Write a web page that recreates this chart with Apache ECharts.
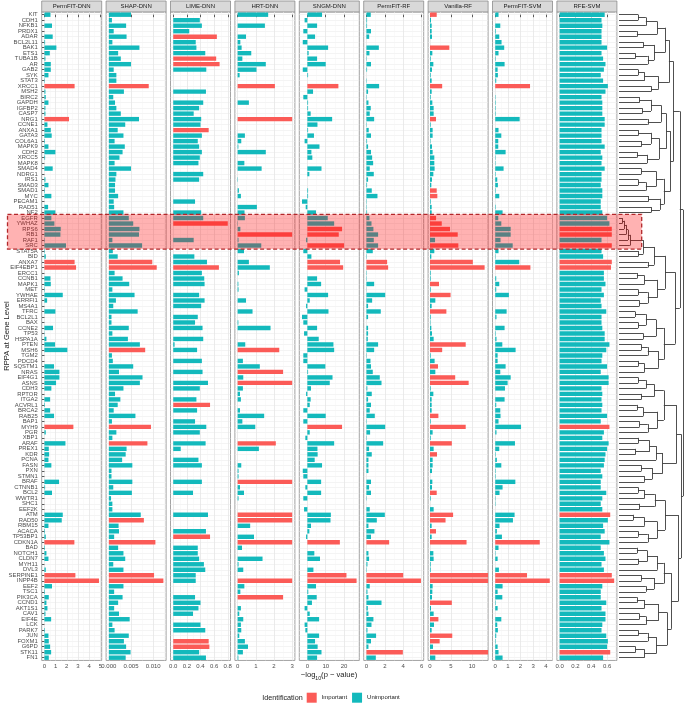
<!DOCTYPE html>
<html><head><meta charset="utf-8">
<script src="https://cdn.jsdelivr.net/npm/echarts@6/dist/echarts.min.js"></script>
<style>html,body{margin:0;padding:0;background:#fff}#c{width:685px;height:705px}</style>
</head><body><div id="c"></div>
<script>
// ---------------- DATA ----------------
const genes = ['KIT','CDH1','NFKB1','PRDX1','ADAR','BCL2L11','BAK1','ETS1','TUBA1B','AR',
'GAB2','SYK','STAT3','XRCC1','MSH2','BIRC2','GAPDH','IGFBP2','CASP7','NRG1',
'CCNE1','ANXA1','GATA3','COL6A1','MAPK9','CDH2','XRCC5','MAPK8','SMAD4','NDRG1',
'IRS1','SMAD3','SMAD1','MYC','PECAM1','RAD51','NF2','EGFR','YWHAZ','RPS6',
'RB1','RAF1','SRC','STAT5A','BID','ANXA7','EIF4EBP1','ERCC1','CCNB1','MAPK1',
'MET','YWHAE','ERRFI1','MS4A1','TFRC','BCL2L1','BAX','CCNE2','TP53','HSPA1A',
'PTEN','MSH6','TGM2','PDCD4','SQSTM1','NRAS','EIF4G1','ASNS','CDH3','RPTOR',
'ITGA2','ACVRL1','BRCA2','RAB25','BAP1','MYH9','PGR','XBP1','ARAF','PREX1',
'KDR','PCNA','FASN','PXN','STMN1','BRAF','CTNNB1','BCL2','WWTR1','SHC1',
'EEF2K','ATM','RAD50','RBM15','ACACA','TP53BP1','CDKN1A','BAD','NOTCH1','CLDN7',
'MYH11','DVL3','SERPINE1','INPP4B','EEF2','TSC1','PIK3CA','CCND1','AKT1S1','CAV1',
'EIF4E','LCK','PARK7','JUN','FOXM1','G6PD','STK11','FN1'];

const methodNames = ['PermFIT-DNN','SHAP-DNN','LIME-DNN','HRT-DNN','SNGM-DNN','PermFIT-RF','Vanilla-RF','PermFIT-SVM','RFE-SVM'];

const valuesPermFITDNN = [0.54,0,0.68,0,0.74,0.06,1.07,0.48,0.09,0.57,
0.57,0.36,0.04,2.7,0.09,0.12,0.36,0.09,0.09,2.2,
0.27,0.57,0.65,0.05,0.36,0.98,0.06,0,0.74,0,
0.09,0.36,0.05,0.62,0,0.33,0.98,0.62,0.89,1.46,
1.43,0.04,1.93,0.04,0.12,2.7,2.83,0,0.54,0.57,
0.04,1.64,0.24,0,0.98,0,0,0.77,0.02,0.18,
0.95,2.05,0,0,0.86,1.34,1.34,1.04,0.62,0,
0.51,0.05,0.51,0.86,0,2.59,0.12,0,1.88,0.39,
0.42,0.36,0.62,0,0,1.31,0.06,0.68,0,0,
0,1.64,1.55,0.36,0.05,0.12,2.68,0.05,0.18,0.36,
0,0.12,2.77,4.88,0.68,0.05,0.39,0.18,0.27,0.09,
0.6,0,0.05,0.36,0.39,0.51,0.6,0.39];

const valuesSHAPDNN = [0.0050,0.0007,0.0039,0.0011,0.0040,0.0008,0.0069,0.0021,0.0027,0.0050,
0.0011,0.0017,0.0017,0.0090,0.0034,0.0010,0.0014,0.0017,0.0027,0.0068,
0.0037,0.0020,0.0033,0.0013,0.0036,0.0031,0.0024,0.0013,0.0050,0.0017,
0.0015,0.0014,0.0014,0.0021,0.0011,0.0012,0.0033,0.0045,0.0055,0.0069,
0.0068,0.0008,0.0075,0.0009,0.0020,0.0098,0.0108,0.0013,0.0031,0.0046,
0.0008,0.0058,0.0016,0.0010,0.0065,0.0006,0.0006,0.0045,0.0008,0.0043,
0.0070,0.0082,0.0007,0.0009,0.0055,0.0023,0.0076,0.0070,0.0033,0.0014,
0.0026,0.0020,0.0011,0.0060,0.0007,0.0095,0.0017,0.0008,0.0087,0.0040,
0.0038,0.0030,0.0053,0.0006,0.0006,0.0053,0.0010,0.0052,0.0005,0.0008,
0.0008,0.0072,0.0079,0.0022,0.0023,0.0012,0.0105,0.0021,0.0033,0.0037,
0.0010,0.0033,0.0102,0.0123,0.0033,0.0012,0.0031,0.0021,0.0012,0.0023,
0.0047,0.0008,0.0013,0.0045,0.0034,0.0039,0.0049,0.0038];

const valuesLIMEDNN = [0,0.39,0.42,0.235,0.64,0.33,0.34,0.47,0.63,0.68,
0.485,0,0,0,0.48,0,0.44,0.38,0.30,0.41,
0.40,0.52,0.42,0.36,0.38,0.42,0.39,0.37,0,0.44,
0.38,0,0,0,0.32,0,0.41,0.44,0.80,0,
0,0.30,0,0,0.31,0.495,0.67,0.42,0.455,0.46,
0,0.38,0.46,0.41,0,0.36,0.32,0.43,0,0.44,
0.02,0.35,0,0.42,0,0.43,0,0.51,0.39,0,
0.34,0.54,0.35,0,0.32,0.485,0.39,0,0.475,0.11,
0,0.37,0.42,0,0,0.42,0,0.29,0,0,
0,0.51,0,0,0.48,0.54,0,0.36,0.36,0.38,
0.45,0.47,0.33,0.33,0,0,0.32,0.40,0.37,0.29,
0,0.40,0.47,0,0.52,0.53,0.38,0.48];

const valuesHRTDNN = [1.68,0,1.5,0,0.46,0.15,0.22,0.75,0.26,1.55,
1.04,0.11,0,2.05,0,0,0.62,0,0,3.0,
0,0,0.40,0.2,0.04,1.55,0,0.37,1.32,0,
0.02,0,0.07,0.18,0,1.06,0.38,0.40,0.02,0.15,
3.0,0.05,1.3,0.35,0,0.62,1.77,0.07,0,0.04,
0.05,0,0.46,0,0.82,0,0.04,1.81,0,0,
0.42,2.29,0,0.29,1.22,2.5,0.31,3.0,0.29,0.13,
0.18,0,0.13,1.46,0.26,0.97,0,0,2.1,1.17,
0,0,0.2,0.05,0.05,3.0,0.13,0.35,0.05,0,
0,3.0,3.0,0.69,0,0.9,3.0,0.24,0,1.37,
0.05,0.31,0,3.0,0.37,0.15,2.5,0,0.18,0.09,
0.31,0.18,0.2,0.09,0.40,0.57,0.29,0.04];

const valuesSNGMDNN = [8.0,-1.5,5.3,-2.2,4.2,-2.5,11.3,0.7,5.3,10.0,
-2.5,0.4,0,16.9,3.1,-2.2,0.4,0.4,1.8,13.5,
5.5,0.4,3.6,-1.5,6.6,2.2,2.7,0,7.7,1.1,
0,0,0.4,0.4,-2.9,-0.9,4.7,11.1,14.6,18.9,
17.1,-0.7,20.0,-2.2,2.2,17.8,19.5,0,5.3,7.5,
-1.5,11.3,1.3,-0.7,11.5,-2.9,-2.2,5.3,-1.8,6.2,
14.2,14.6,-2.2,-2.2,9.8,0.4,13.7,12.2,2.0,-0.7,
1.8,1.3,-2.2,10.0,-2.2,18.9,1.3,-1.1,14.6,5.5,
5.6,4.0,8.0,-2.5,-2.2,7.5,-1.1,7.5,-2.2,0,
-1.8,12.8,12.6,2.0,1.1,-0.7,17.7,0,3.8,6.9,
0,3.3,21.3,26.8,4.7,0.5,5.1,2.5,-1.5,1.3,
6.4,-1.5,-1.1,6.4,4.2,5.6,7.7,5.3];

const valuesPermFITRF = [0.47,0.07,0.07,0.5,0.3,0,1.35,0.33,0.04,0.5,
0.07,0,0.04,1.38,0.18,0.04,0.22,0.47,0.36,0.84,
0.04,0.25,0.5,0.07,0.18,0.5,0.62,0.73,0.36,0.8,
0.18,0.07,0.58,1.2,0.04,0.04,0.07,0.33,0.55,0.76,
1.27,0.8,1.27,0.69,0.04,2.25,2.36,0.04,0.04,0.84,
0.02,2.04,0.62,0.18,1.56,0.18,0,0.18,0.18,0.15,
1.27,0.84,0.04,0.44,0.5,0.69,1.45,1.64,0.1,0.58,
0.18,0.5,0.36,0.91,0.04,2.04,0.4,0.04,1.82,0.29,
0.58,0.22,0.22,0.22,0,0.5,0.29,0.5,0.04,0,
0.36,2.0,1.13,0.22,0.87,0.5,2.47,0,0.22,0.29,
0.11,0.04,4.0,5.93,0.36,0.11,0.22,1.64,0.15,0.22,
0.76,0.55,0.11,1.05,0.5,0.22,3.96,1.02];

const valuesVanillaRF = [1.6,0.24,0.4,0.4,0.48,0,4.6,0.56,0.16,0.8,
0.48,0.16,0.4,2.9,0.4,0.16,0.56,0.87,0.87,1.43,
0.16,0.63,0.63,0.1,0.48,0.63,1.03,1.03,1.1,0.8,
0.48,0.32,1.6,1.75,0.16,0.4,0.4,1.45,2.8,4.76,
6.6,1.2,6.75,1.03,0.32,10.2,13.0,0.16,0.16,2.14,
0.16,4.9,1.27,0.4,3.9,0.16,0.1,0.32,0.48,0.87,
8.5,2.9,0.16,1.1,1.9,1.27,6.0,9.2,0.16,0.8,
0.4,0.4,0.4,2.0,0.16,8.5,0.63,0.16,5.2,0.87,
1.67,0.63,0.63,0.48,0,0.56,0.48,1.6,0.16,0,
0.87,5.5,3.7,0.4,1.43,0.4,8.7,0,0.8,0.87,
0.16,0.16,15,15,0.63,0.56,0.48,5.2,0.24,0.87,
2.0,0.95,0.4,5.3,2.3,0.71,15,1.27];

const valuesPermFITSVM = [0.26,0,0.4,0.05,0.32,0.5,0.71,0.26,0.04,0.74,
0.19,0.21,0.08,2.75,0,0.03,0.04,0.04,0.04,1.93,
0,0.26,0.48,0.24,0.24,0.82,0.03,0.03,0.66,0.04,
0.16,0.21,0.04,0.32,0,0.04,0.58,0.24,0.48,1.22,
1.22,0.42,1.38,0.26,0.03,1.9,2.78,0,0.08,0.32,
0.08,1.08,0,0,0.9,0.1,0,0.74,0.04,0.1,
0.56,1.61,0.19,0.19,0.82,0.4,1.22,0.98,0.77,0,
0.74,0.08,0.4,0.42,0.26,2.04,0.1,0,1.56,0.32,
0.04,0.13,0.48,0.04,0.04,1.59,0.58,0.34,0.03,0.03,
0,1.53,1.4,0.34,0.13,0.53,3.52,0.26,0.03,0.19,
0,0.29,2.51,4.31,0.58,0.19,0.56,0.04,0.19,0,
0.48,0.16,0.21,0.08,0.04,0.19,0.26,0.58];

const valuesRFESVM = [0.57,0.53,0.54,0.53,0.53,0.53,0.60,0.53,0.55,0.58,
0.56,0.52,0.55,0.61,0.58,0.53,0.54,0.54,0.54,0.57,
0.57,0.53,0.53,0.53,0.57,0.52,0.54,0.53,0.57,0.53,
0.53,0.52,0.54,0.54,0.52,0.52,0.54,0.60,0.63,0.66,
0.66,0.53,0.66,0.53,0.55,0.66,0.65,0.56,0.56,0.58,
0.53,0.56,0.52,0.53,0.59,0.53,0.53,0.54,0.57,0.57,
0.63,0.59,0.54,0.53,0.60,0.52,0.62,0.62,0.53,0.54,
0.53,0.54,0.53,0.60,0.52,0.63,0.56,0.54,0.62,0.60,
0.58,0.57,0.56,0.52,0.54,0.52,0.52,0.59,0.54,0.52,
0.54,0.64,0.61,0.55,0.57,0.52,0.63,0.52,0.56,0.58,
0.53,0.56,0.66,0.69,0.54,0.52,0.52,0.59,0.53,0.58,
0.58,0.54,0.53,0.59,0.61,0.60,0.64,0.55];

const importantPermFITDNN = ['XRCC1','NRG1','ANXA7','EIF4EBP1','MYH9','CDKN1A','SERPINE1','INPP4B'];
const importantSHAPDNN = ['XRCC1','ANXA7','EIF4EBP1','MSH6','MYH9','ARAF','RAD50','CDKN1A','SERPINE1','INPP4B'];
const importantLIMEDNN = ['ADAR','TUBA1B','AR','ANXA1','YWHAZ','EIF4EBP1','ACVRL1','TP53BP1','FOXM1','G6PD'];
const importantHRTDNN = ['XRCC1','NRG1','RB1','MSH6','NRAS','ASNS','ARAF','BRAF','ATM','RAD50','CDKN1A','INPP4B','PIK3CA'];
const importantSNGMDNN = ['XRCC1','RPS6','RB1','SRC','ANXA7','EIF4EBP1','MYH9','CDKN1A','SERPINE1','INPP4B'];
const importantPermFITRF = ['ANXA7','EIF4EBP1','CDKN1A','SERPINE1','INPP4B','STK11'];
const importantVanillaRF = ['KIT','BAK1','XRCC1','NRG1','SMAD1','MYC','EGFR','YWHAZ','RPS6','RB1','SRC','ANXA7','EIF4EBP1','MAPK1','YWHAE','TFRC','PTEN','MSH6','SQSTM1','EIF4G1','ASNS','RAB25','MYH9','ARAF','KDR','BCL2','ATM','RAD50','ACACA','CDKN1A','SERPINE1','INPP4B','CCND1','EIF4E','JUN','FOXM1','STK11'];
const importantPermFITSVM = ['XRCC1','EIF4EBP1','CDKN1A','SERPINE1','INPP4B'];
const importantRFESVM = ['RPS6','RB1','SRC','ANXA7','EIF4EBP1','MYH9','ATM','SERPINE1','INPP4B','STK11'];

const ticksPermFITDNN = [0,1,2,3,4,5];
const ticksSHAPDNN = [0,0.005,0.010];
const ticksLIMEDNN = [0,0.2,0.4,0.6,0.8];
const ticksHRTDNN = [0,1,2,3];
const ticksSNGMDNN = [0,10,20];
const ticksPermFITRF = [0,2,4,6];
const ticksVanillaRF = [0,5,10];
const ticksPermFITSVM = [0,1,2,3,4];
const ticksRFESVM = [0,0.2,0.4,0.6];

const limitsPermFITDNN = [-0.244,5.124];
const limitsSHAPDNN = [-0.000615,0.012915];
const limitsLIMEDNN = [-0.04,0.84];
const limitsHRTDNN = [-0.15,3.15];
const limitsSNGMDNN = [-4.385,28.285];
const limitsPermFITRF = [-0.2965,6.2265];
const limitsVanillaRF = [-0.45,13.83];
const limitsPermFITSVM = [-0.2155,4.5255];
const limitsRFESVM = [-0.0345,0.7245];

// gene clustering: [left, right, mergeHeight]; leaves are row numbers (1 = top row)
const clusterA = [[[1,2,.30],3,.42],[4,5,.28],.60];
const clusterB = [[6,7,.38],[[8,9,.25],10,.45],.55];
const clusterC = [[[11,12,.30],13,.40],[14,15,.50],.62];
const clusterD = [[[16,17,.32],[18,19,.36],.50],[20,21,.45],.66];
const clusterE = [[[22,23,.30],[24,25,.35],.50],[[26,27,.28],28,.44],.63];
const clusterF = [[29,30,.35],[[31,32,.30],33,.42],.58];
const clusterG = [[34,35,.46],[36,37,.50],.64];
const clusterHL = [[[[[38,39,.05],40,.08],41,.11],42,.14],43,.17];
const clusterH1 = [[clusterHL,[44,45,.30],.38],[46,47,.45],.55];
const clusterH2 = [[[48,49,.28],50,.40],[[51,52,.30],[53,54,.32],.45],.60];
const clusterH3 = [[[55,56,.25],[57,58,.30],.42],[59,60,.38],.58];
const clusterH4 = [[[61,62,.35],63,.45],[[64,65,.30],66,.40],.62];
const clusterQa = [[[67,68,.30],69,.42],[70,71,.35],.55];
const clusterQb = [[[72,73,.28],74,.38],[[75,76,.32],77,.45],.60];
const clusterQc = [[[78,79,.30],[80,81,.26],.48],82,.58];
const clusterQd = [[83,84,.35],[85,86,.40],.52];
const clusterR1 = [[[87,88,.30],89,.40],[90,91,.32],.56];
const clusterR2 = [[[92,93,.22],94,.40],[[95,96,.30],97,.45],.60];
const clusterR3 = [[[98,99,.28],[100,101,.30],.44],102,.60];
const clusterR4 = [[103,104,.35],[105,106,.42],.55];
const clusterR5 = [[[107,108,.28],109,.40],[[110,111,.32],112,.42],.62];
const clusterR6 = [[[113,114,.30],115,.45],[[116,117,.26],118,.40],.58];
const treeP1 = [[[clusterA,clusterB,.72],clusterC,.78],[[clusterD,clusterE,.74],[clusterF,clusterG,.70],.80],.85];
const treeP2 = [[clusterH1,clusterH2,.72],[clusterH3,clusterH4,.70],.88];
const treeQ1 = [[clusterQa,clusterQb,.70],[clusterQc,clusterQd,.68],.90];
const treeQ2 = [[clusterR1,clusterR2,.72],[[clusterR3,clusterR4,.70],[clusterR5,clusterR6,.75],.82],.93];
const geneTree = [[treeP1,treeP2,.95],[treeQ1,treeQ2,.97],1];
const highlightGenes = ['EGFR','SRC'];

// ---------------- LAYOUT / STYLE ----------------
const ROW_TOP = 11.95, ROW_H = 648.5, PANEL_L0 = 41.7, PANEL_STEP = 64.4, PANEL_W = 60;
const DENDRO_L = 619, DENDRO_W = 64;
const FONT = "'Liberation Sans', Arial, sans-serif";
const RED = '#FB5B57', TEAL = '#13B9BC';
const SMALL = 6.0;

const panels = [
  {values: valuesPermFITDNN, important: importantPermFITDNN, ticks: ticksPermFITDNN, limits: limitsPermFITDNN, digits: 0},
  {values: valuesSHAPDNN, important: importantSHAPDNN, ticks: ticksSHAPDNN, limits: limitsSHAPDNN, digits: 3},
  {values: valuesLIMEDNN, important: importantLIMEDNN, ticks: ticksLIMEDNN, limits: limitsLIMEDNN, digits: 1},
  {values: valuesHRTDNN, important: importantHRTDNN, ticks: ticksHRTDNN, limits: limitsHRTDNN, digits: 0},
  {values: valuesSNGMDNN, important: importantSNGMDNN, ticks: ticksSNGMDNN, limits: limitsSNGMDNN, digits: 0},
  {values: valuesPermFITRF, important: importantPermFITRF, ticks: ticksPermFITRF, limits: limitsPermFITRF, digits: 0},
  {values: valuesVanillaRF, important: importantVanillaRF, ticks: ticksVanillaRF, limits: limitsVanillaRF, digits: 0},
  {values: valuesPermFITSVM, important: importantPermFITSVM, ticks: ticksPermFITSVM, limits: limitsPermFITSVM, digits: 0},
  {values: valuesRFESVM, important: importantRFESVM, ticks: ticksRFESVM, limits: limitsRFESVM, digits: 1}
];

function minorsOf(ticks, lim) {
  const step = ticks[1] - ticks[0];
  const out = [];
  for (let k = -1; k < ticks.length; k++) {
    const v = ticks[0] + (k + 0.5) * step;
    if (v > lim[0] && v < lim[1]) out.push(+v.toFixed(6));
  }
  return out;
}

const rowIdx = genes.map((g, k) => k);
const grids = [], xAxes = [], yAxes = [], series = [], graphics = [];

panels.forEach((p, i) => {
  const left = PANEL_L0 + i * PANEL_STEP;
  grids.push({left: left, top: ROW_TOP, width: PANEL_W, height: ROW_H, show: true,
    backgroundColor: '#fff', borderColor: '#8c8c8c', borderWidth: 0.8, containLabel: false, outerBoundsMode: 'none'});
  xAxes.push({type: 'value', gridIndex: i, min: p.limits[0], max: p.limits[1], position: 'bottom',
    axisLine: {show: false},
    axisTick: {show: true, length: 2.5, customValues: p.ticks, lineStyle: {color: '#333', width: 0.8}},
    axisLabel: {customValues: p.ticks, formatter: v => Number(v).toFixed(p.digits), fontSize: SMALL, color: '#4d4d4d', margin: 2.5, fontFamily: FONT, hideOverlap: false},
    splitLine: {show: true, lineStyle: {color: '#e6e6e6', width: 0.8}}});
  xAxes.push({type: 'value', gridIndex: i, min: p.limits[0], max: p.limits[1], position: 'top',
    axisLine: {show: false}, axisLabel: {show: false},
    axisTick: {show: false, customValues: minorsOf(p.ticks, p.limits)},
    splitLine: {show: true, lineStyle: {color: '#f4f4f4', width: 0.5}}});
  yAxes.push({type: 'category', gridIndex: i, data: genes, inverse: true,
    axisLine: {show: false},
    axisTick: {show: i === 0, alignWithLabel: true, length: 2.5, interval: 0, lineStyle: {color: '#333', width: 0.8}},
    axisLabel: {show: i === 0, interval: 0, fontSize: 5.9, color: '#4d4d4d', margin: 4, fontFamily: FONT, hideOverlap: false},
    splitLine: {show: false}});
  yAxes.push({type: 'value', gridIndex: i, min: -0.5, max: genes.length - 0.5, inverse: true, position: 'right',
    axisLine: {show: false}, axisLabel: {show: false},
    axisTick: {show: false, customValues: rowIdx},
    splitLine: {show: true, lineStyle: {color: '#ececec', width: 0.6}}});
  const imp = new Set(p.important);
  ['Important', 'Unimportant'].forEach((nm, s) => {
    series.push({type: 'bar', name: nm, xAxisIndex: 2 * i, yAxisIndex: 2 * i,
      barWidth: '80%', barGap: '-100%', clip: true, silent: true, animation: false,
      itemStyle: {color: s === 0 ? RED : TEAL},
      data: genes.map((g, k) => ((imp.has(g) ? 0 : 1) === s) ? p.values[k] : '-')});
  });
  graphics.push({type: 'rect', id: 'strip' + i, silent: true,
    shape: {x: left, y: 1, width: PANEL_W, height: ROW_TOP - 1},
    style: {fill: '#d9d9d9', stroke: '#8c8c8c', lineWidth: 0.8}});
  graphics.push({type: 'text', id: 'stripText' + i, silent: true, x: left + PANEL_W / 2, y: (ROW_TOP + 1) / 2 + 0.3,
    style: {text: methodNames[i], fontSize: SMALL, fontFamily: FONT, fill: '#1a1a1a', align: 'center', verticalAlign: 'middle'}});
});

// dendrogram segments from the cluster tree
const segs = [];
function collect(n) {
  if (!Array.isArray(n)) return {h: 0, y: n - 1};
  const a = collect(n[0]), b = collect(n[1]), h = n[2];
  segs.push([[a.h, a.y], [h, a.y]], [[b.h, b.y], [h, b.y]], [[h, a.y], [h, b.y]]);
  return {h: h, y: (a.y + b.y) / 2};
}
collect(geneTree);
const DI = panels.length * 2;
grids.push({left: DENDRO_L, top: ROW_TOP, width: DENDRO_W, height: ROW_H, show: false, containLabel: false, outerBoundsMode: 'none'});
xAxes.push({type: 'value', gridIndex: panels.length, min: 0, max: 1, show: false});
yAxes.push({type: 'value', gridIndex: panels.length, min: -0.5, max: genes.length - 0.5, inverse: true, show: false});
series.push({type: 'lines', coordinateSystem: 'cartesian2d', xAxisIndex: DI, yAxisIndex: DI, silent: true, animation: false,
  lineStyle: {color: '#3c3c3c', width: 0.9, opacity: 1},
  data: segs.map(c => ({coords: c}))});

// titles & legend title
graphics.push({type: 'text', id: 'xTitle', silent: true, x: 329, y: 674.5,
  style: {text: '{a|\u2212log}{s|10}{a|(p \u2212 value)}', align: 'center', verticalAlign: 'middle', fill: '#1a1a1a',
    rich: {a: {fontSize: 7.6, fontFamily: FONT, fill: '#1a1a1a', lineHeight: 10, verticalAlign: 'middle'},
           s: {fontSize: 5.2, fontFamily: FONT, fill: '#1a1a1a', lineHeight: 13, verticalAlign: 'bottom'}}}});
graphics.push({type: 'text', id: 'yTitle', silent: true, x: 6.5, y: 336, rotation: Math.PI / 2,
  style: {text: 'RPPA at Gene Level', fontSize: 7.6, fontFamily: FONT, fill: '#1a1a1a', align: 'center', verticalAlign: 'middle'}});
graphics.push({type: 'text', id: 'legTitle', silent: true, x: 262.3, y: 697.8,
  style: {text: 'Identification', fontSize: 7.2, fontFamily: FONT, fill: '#1a1a1a', align: 'left', verticalAlign: 'middle'}});

const chart = echarts.init(document.getElementById('c'), null, {renderer: 'canvas'});
chart.setOption({
  animation: false,
  backgroundColor: '#ffffff',
  textStyle: {fontFamily: FONT},
  grid: grids, xAxis: xAxes, yAxis: yAxes, series: series,
  legend: {data: ['Important', 'Unimportant'], left: 306.7, top: 692.7, padding: 0, itemWidth: 10, itemHeight: 10, itemGap: 5,
    icon: 'rect', selectedMode: false, textStyle: {fontSize: SMALL, color: '#1a1a1a', fontFamily: FONT}},
  graphic: {elements: graphics}
});

// highlighted cluster band, positioned through the dendrogram's row scale
const r0 = genes.indexOf(highlightGenes[0]), r1 = genes.indexOf(highlightGenes[1]);
const yTop = chart.convertToPixel({yAxisIndex: DI}, r0 - 0.68);
const yBot = chart.convertToPixel({yAxisIndex: DI}, r1 + 0.64);
chart.setOption({graphic: {elements: graphics.concat([{type: 'rect', id: 'highlight', silent: true, z: 100,
  shape: {x: 7.5, y: yTop, width: 641.7 - 7.5, height: yBot - yTop},
  style: {fill: 'rgba(255,0,0,0.30)', stroke: '#b3282b', lineWidth: 1.3, lineDash: [4, 2.5]}}])}});
</script>
</body></html>
